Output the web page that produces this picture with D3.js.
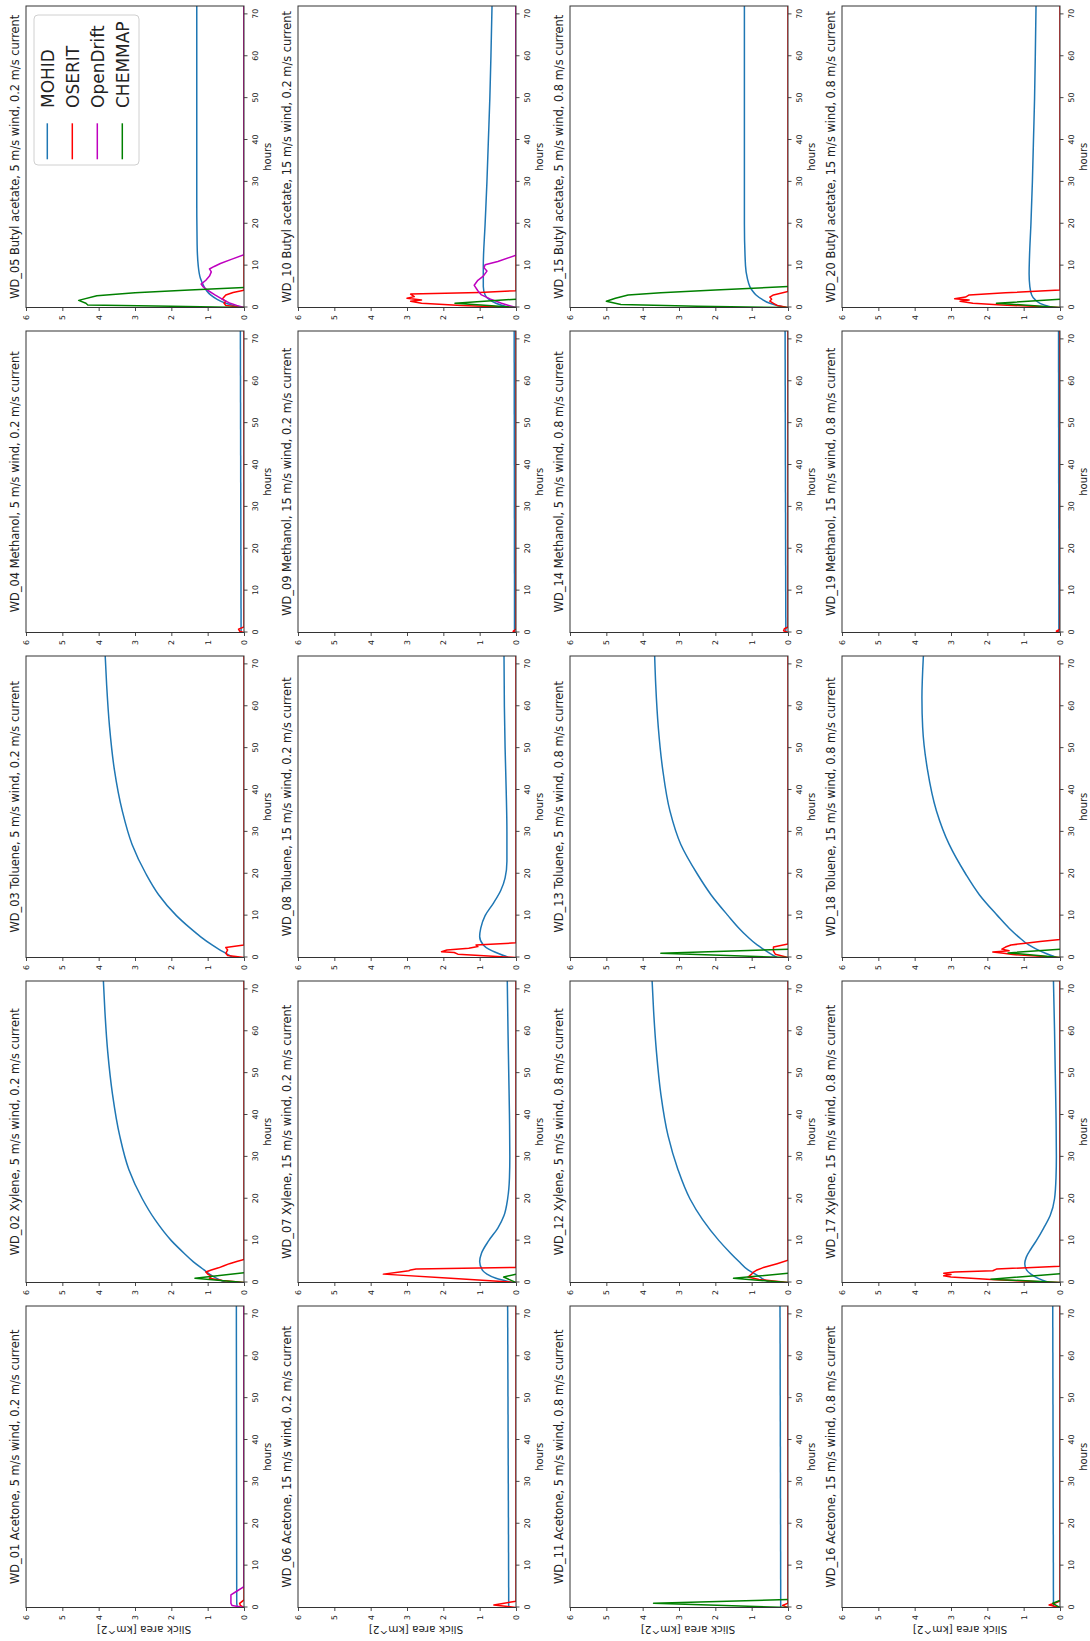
<!DOCTYPE html>
<html><head><meta charset="utf-8">
<script src="https://cdn.jsdelivr.net/npm/d3@7"></script>
<style>body{margin:0;background:#fff} svg{display:block;font-family:"DejaVu Sans",sans-serif}</style>
</head><body>
<svg id="chart" width="1090" height="1641"></svg>
<script>
// ---------- data ----------
const panelIds = ["WD_01","WD_02","WD_03","WD_04","WD_05","WD_06","WD_07","WD_08","WD_09","WD_10",
                  "WD_11","WD_12","WD_13","WD_14","WD_15","WD_16","WD_17","WD_18","WD_19","WD_20"];
const chemicals = ["Acetone","Xylene","Toluene","Methanol","Butyl acetate"];
const winds = [5, 15, 5, 15];
const currents = [0.2, 0.2, 0.8, 0.8];
const hourTicks = [0,10,20,30,40,50,60,70];
const areaTicks = [0,1,2,3,4,5,6];
const models = ["MOHID","OSERIT","OpenDrift","CHEMMAP"];
const modelColors = ["#1f77b4","#ff0000","#bf00bf","#008000"];

// [hour, slick area km^2] per panel WD_01..WD_20
const mohid = [
 [[0,0.18],[1,0.2],[72,0.21]],
 [[0,0.5],[1,0.75],[2,0.95],[3,1.1],[5,1.4],[7,1.65],[10,2.0],[15,2.45],[20,2.8],[27,3.17],[35,3.42],[45,3.62],[55,3.75],[65,3.83],[72,3.87]],
 [[0,0.3],[1,0.5],[2,0.7],[3,0.88],[5,1.2],[7,1.48],[10,1.86],[15,2.35],[20,2.7],[27,3.08],[35,3.35],[45,3.57],[55,3.7],[65,3.78],[72,3.82]],
 [[0,0.08],[72,0.1]],
 [[0,0.05],[0.5,0.3],[1,0.5],[2,0.75],[3,0.92],[4,1.03],[5,1.1],[7,1.2],[10,1.26],[15,1.29],[25,1.3],[72,1.3]],
 [[0,0.2],[72,0.23]],
 [[0,0.1],[1,0.55],[2,0.8],[3,0.93],[5,1.0],[7,0.95],[10,0.75],[13,0.5],[16,0.33],[20,0.23],[25,0.18],[30,0.17],[40,0.18],[50,0.2],[60,0.22],[72,0.24]],
 [[0,0.2],[1,0.5],[2,0.75],[3,0.9],[5,1.0],[7,0.97],[10,0.85],[13,0.62],[16,0.42],[19,0.3],[23,0.25],[30,0.25],[40,0.27],[50,0.3],[60,0.32],[72,0.33]],
 [[0,0.04],[72,0.05]],
 [[0,0.2],[1,0.55],[2,0.75],[3,0.85],[5,0.9],[10,0.9],[20,0.85],[30,0.8],[40,0.76],[50,0.72],[60,0.69],[72,0.66]],
 [[0,0.2],[72,0.22]],
 [[0,0.5],[1,0.72],[2,0.9],[3,1.1],[5,1.35],[7,1.58],[10,1.9],[15,2.35],[20,2.7],[27,3.03],[35,3.3],[45,3.5],[55,3.62],[65,3.7],[72,3.74]],
 [[0,0.3],[1,0.5],[2,0.68],[3,0.85],[5,1.12],[7,1.35],[10,1.65],[15,2.12],[20,2.5],[27,2.95],[35,3.25],[45,3.45],[55,3.57],[65,3.64],[72,3.67]],
 [[0,0.06],[72,0.08]],
 [[0,0.05],[0.5,0.3],[1,0.5],[2,0.72],[3,0.88],[4,0.98],[5,1.05],[7,1.12],[10,1.17],[20,1.2],[72,1.2]],
 [[0,0.18],[72,0.2]],
 [[0,0.3],[1,0.6],[2,0.8],[3,0.92],[4.5,0.97],[6,0.93],[8,0.8],[10,0.65],[13,0.45],[16,0.27],[20,0.15],[25,0.11],[30,0.1],[40,0.11],[50,0.13],[60,0.15],[72,0.18]],
 [[0,0.1],[1,0.4],[2,0.65],[3,0.86],[5,1.15],[7,1.4],[10,1.72],[15,2.22],[20,2.6],[27,3.05],[35,3.4],[45,3.65],[55,3.78],[62,3.8],[72,3.76]],
 [[0,0.03],[72,0.04]],
 [[0,0.2],[1,0.55],[2,0.7],[3,0.78],[5,0.83],[8,0.85],[12,0.84],[20,0.8],[30,0.76],[40,0.73],[50,0.7],[60,0.68],[72,0.66]]
];
const oserit = [
 [[0,0],[0.5,0.1],[1,0.12],[1.8,0],[72,0]],
 [[0,0],[0.5,0.6],[1,0.95],[1.5,0.9],[2,1.0],[2.5,1.05],[3,0.9],[3.5,0.7],[4,0.55],[4.5,0.4],[5,0.2],[5.5,0],[72,0]],
 [[0,0],[0.5,0.45],[1,0.5],[1.8,0.45],[2.4,0.5],[3,0],[72,0]],
 [[0,0],[0.3,0.12],[0.8,0.15],[1.3,0],[72,0]],
 [[0,0],[0.5,0.5],[1,0.55],[1.5,0.5],[2,0.6],[2.5,0.55],[3,0.5],[3.6,0.3],[4.1,0],[72,0]],
 [[0,0],[0.6,0.61],[1.5,0],[72,0]],
 [[0,0],[1,1.8],[2,3.65],[2.5,3.2],[2.8,2.95],[3.0,2.9],[3.2,2.75],[3.6,0],[72,0]],
 [[0,0],[0.8,1.6],[1.2,1.7],[1.4,2.05],[1.8,1.9],[2.2,1.3],[2.6,1.05],[3.0,1.1],[3.5,0],[72,0]],
 [[0,0],[0.3,0.08],[0.8,0],[72,0]],
 [[0,0],[0.5,1.5],[1.0,2.6],[1.5,2.9],[1.8,2.6],[2.2,3.0],[2.6,2.8],[3.2,2.9],[3.6,1.0],[4.0,0],[72,0]],
 [[0,0],[0.5,0.15],[1,0],[72,0]],
 [[0,0],[0.7,0.8],[1.3,1.1],[2,1.0],[2.5,0.95],[3,0.85],[3.5,0.7],[4,0.5],[4.5,0.3],[5.3,0],[72,0]],
 [[0,0],[0.8,0.35],[1.5,0.4],[2.5,0.4],[3.2,0],[72,0]],
 [[0,0],[0.4,0.12],[0.9,0.1],[1.3,0],[72,0]],
 [[0,0],[0.5,0.3],[1,0.4],[1.5,0.5],[2,0.45],[2.5,0.5],[3,0.4],[3.8,0],[72,0]],
 [[0,0],[0.6,0.3],[1.2,0.1],[1.6,0],[72,0]],
 [[0,0],[0.7,1.9],[1.3,3.0],[1.6,3.2],[1.9,3.0],[2.2,3.2],[2.5,2.9],[2.8,1.85],[3.2,1.75],[3.9,0],[72,0]],
 [[0,0],[0.7,1.3],[1,1.55],[1.3,1.85],[1.6,1.4],[2,1.6],[2.5,1.5],[3,1.35],[3.4,0.95],[3.8,0.55],[4.3,0],[72,0]],
 [[0,0],[0.3,0.1],[0.8,0],[72,0]],
 [[0,0],[0.6,1.6],[1.0,2.4],[1.5,2.75],[1.8,2.5],[2.1,2.9],[2.5,2.6],[3.0,2.5],[3.5,1.5],[4.2,0],[72,0]]
];
const opendrift = [
 [[0,0],[0.5,0.33],[1,0.36],[3,0.36],[4,0.18],[5,0],[72,0]],
 [],[],[],
 [[0,0],[0.5,0.2],[1,0.38],[2,0.6],[3,0.8],[4,0.98],[5,1.13],[5.6,1.18],[6.5,1.05],[7.5,0.95],[8.5,0.9],[9.2,0.95],[9.8,0.82],[10.5,0.65],[11.5,0.35],[12.6,0],[72,0]],
 [],[],[],[],
 [[0,0],[0.5,0.2],[1,0.4],[2,0.7],[3,0.95],[4,1.05],[5.3,1.15],[6.5,1.05],[7.5,0.9],[8.7,0.8],[9.5,0.88],[10.2,0.85],[11,0.5],[12.5,0],[72,0]],
 [],[],[],[],[],[],[],[],[],[]
];
const chemmap = [
 [],
 [[0,0],[1,1.35],[2.3,0]],
 [],
 [],
 [[0,0],[0.3,2.0],[0.6,4.3],[1.0,4.35],[1.7,4.55],[2.8,4.05],[3.5,3.0],[4.2,1.5],[4.8,0]],
 [],
 [[0,0],[1.3,0.34],[2,0]],
 [],
 [],
 [[0,0],[1,1.68],[2,0]],
 [[0,0],[1,3.7],[1.9,0]],
 [[0,0],[1,1.5],[2.2,0]],
 [[0,0],[1,3.5],[2,0]],
 [],
 [[0,0],[0.3,2.5],[0.7,4.6],[1.5,5.0],[2.2,4.75],[3,4.4],[3.5,3.5],[4.2,2.0],[5,0]],
 [[0,0],[1,0.2],[1.7,0]],
 [[0,0],[0.8,1.9],[2.1,0]],
 [[0,0],[1.1,1.43],[2,0]],
 [],
 [[0,0],[1,1.75],[2,0]]
];
const seriesData = [mohid, oserit, opendrift, chemmap];

// ---------- layout (figure drawn unrotated, then turned -90deg) ----------
const FW = 1641;
const pw = 301.5, ph = 218;
const colLeft = j => 33.5 + 325 * j;
const rowTop = i => 26 + 272 * i;
const spineColor = "#333";

const svg = d3.select("#chart");
const root = svg.append("g").attr("transform", `translate(0,${FW}) rotate(-90)`);

const x = d3.scaleLinear().domain([0, 72]).range([0, pw]);
const y = d3.scaleLinear().domain([0, 6]).range([ph, 0]);

for (let i = 0; i < 4; i++) {
  for (let j = 0; j < 5; j++) {
    const k = i * 5 + j;
    const g = root.append("g").attr("transform", `translate(${colLeft(j)},${rowTop(i)})`);
    const clipId = "clip" + k;
    g.append("clipPath").attr("id", clipId).append("rect")
      .attr("x", 0).attr("y", -2).attr("width", pw).attr("height", ph + 2);

    const lines = g.append("g").attr("clip-path", `url(#${clipId})`);
    seriesData.forEach((arr, m) => {
      const pts = arr[k];
      if (!pts || !pts.length) return;
      const gen = d3.line().x(d => x(d[0])).y(d => y(d[1]))
        .curve(m === 0 ? d3.curveMonotoneX : d3.curveLinear);
      lines.append("path").attr("d", gen(pts))
        .attr("fill", "none").attr("stroke", modelColors[m])
        .attr("stroke-width", 1.5).attr("stroke-linejoin", "round");
    });

    // axes
    const ax = g.append("g").attr("transform", `translate(0,${ph})`)
      .call(d3.axisBottom(x).tickValues(hourTicks).tickSize(3.5).tickPadding(4.5).tickFormat(d3.format("d")));
    const ay = g.append("g")
      .call(d3.axisLeft(y).tickValues(areaTicks).tickSize(3.5).tickPadding(4).tickFormat(d3.format("d")));
    [ax, ay].forEach(a => {
      a.select(".domain").remove();
      a.selectAll("line").attr("stroke", spineColor).attr("stroke-width", 0.9);
      a.selectAll("text").attr("fill", "#222").style("font-size", "7.8px").style("font-family", "DejaVu Sans");
    });

    // frame
    g.append("rect").attr("x", 0).attr("y", 0).attr("width", pw).attr("height", ph)
      .attr("fill", "none").attr("stroke", spineColor).attr("stroke-width", 1);

    // title
    g.append("text").attr("x", pw / 2).attr("y", -7.5).attr("text-anchor", "middle")
      .style("font-size", "11.4px").attr("fill", "#222")
      .text(`${panelIds[k]} ${chemicals[j]}, ${winds[i]} m/s wind, ${currents[i]} m/s current`);

    // x label
    g.append("text").attr("x", pw / 2).attr("y", ph + 27).attr("text-anchor", "middle")
      .style("font-size", "10px").attr("fill", "#222").text("hours");

    // y label only in first column
    if (j === 0) {
      g.append("text").attr("transform", `translate(-18.6,${ph / 2 + 9}) rotate(-90)`)
        .attr("text-anchor", "middle").style("font-size", "10.5px").attr("fill", "#222")
        .text("Slick area  [km^2]");
    }

    // legend in WD_05
    if (k === 4) {
      const lg = g.append("g").attr("transform", "translate(142.5,8)");
      lg.append("rect").attr("width", 150).attr("height", 105).attr("rx", 4)
        .attr("fill", "#fff").attr("fill-opacity", 0.8).attr("stroke", "#d0d0d0").attr("stroke-width", 1);
      models.forEach((name, m) => {
        const yy = 13.3 + 25 * m;
        lg.append("line").attr("x1", 5.7).attr("x2", 41.7).attr("y1", yy).attr("y2", yy)
          .attr("stroke", modelColors[m]).attr("stroke-width", 1.5);
        lg.append("text").attr("x", 57).attr("y", yy + 6.2)
          .style("font-size", "17px").attr("fill", "#222").text(name);
      });
    }
  }
}
</script>
</body></html>
